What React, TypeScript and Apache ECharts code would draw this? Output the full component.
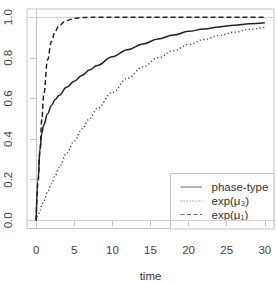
import React, { useEffect, useRef } from "react";
import * as echarts from "echarts";

// Sample times (x) and the three cumulative distribution curves
const times = [0, 0.25, 0.5, 0.75, 1, 1.5, 2, 2.5, 3, 4, 5, 6, 7, 8, 10, 12, 14, 16, 18, 20, 22, 24, 26, 28, 30];
const phaseType = [0, 0.2, 0.35, 0.43, 0.47, 0.525, 0.565, 0.595, 0.615, 0.655, 0.685, 0.713, 0.74, 0.762, 0.805, 0.84, 0.868, 0.892, 0.912, 0.93, 0.942, 0.952, 0.96, 0.967, 0.972];
const expMu3 = [0, 0.025, 0.05, 0.073, 0.096, 0.14, 0.18, 0.22, 0.26, 0.33, 0.39, 0.45, 0.5, 0.55, 0.63, 0.7, 0.755, 0.8, 0.835, 0.865, 0.89, 0.91, 0.926, 0.94, 0.95];
const expMu1 = [0, 0.19, 0.34, 0.5, 0.62, 0.79, 0.88, 0.93, 0.96, 0.984, 0.994, 0.998, 0.999, 1, 1, 1, 1, 1, 1, 1, 1, 1, 1, 1, 1];

const xTicks = [0, 5, 10, 15, 20, 25, 30];
const yTicks = [0, 0.2, 0.4, 0.6, 0.8, 1.0];
const legendNames = ["phase-type", "exp(μ₃)", "exp(μ₁)"];

const FONT = "'Liberation Sans', Arial, Helvetica, sans-serif";
const FS = 11.5;
const FRAME = "#c4c4c4";
const INK = "#222";

const pairs = (vals: number[]) => times.map((t, i) => [t, vals[i]]);

export default function App() {
  const ref = useRef<HTMLDivElement>(null);

  useEffect(() => {
    if (!ref.current) return;
    const chart = echarts.init(ref.current, undefined, { renderer: "svg" });

    const lineStyles: any[] = [
      { type: "solid", width: 1.5, color: INK },
      { type: [1.2, 2.4], width: 1.4, color: "#444" },
      { type: [5, 3], width: 1.5, color: INK },
    ];
    const seriesData = [phaseType, expMu3, expMu1];

    const legendTop = 173;
    const legendRows = [187, 201, 214.5];

    const option: any = {
      animation: false,
      backgroundColor: "#fff",
      grid: {
        left: 27,
        right: 3,
        top: 9,
        bottom: 53.5,
        containLabel: false,
        outerBoundsMode: "none",
        show: true,
        borderColor: FRAME,
        borderWidth: 1,
        backgroundColor: "transparent",
      },
      xAxis: {
        type: "value",
        min: -1.2,
        max: 31.2,
        name: "time",
        nameLocation: "middle",
        nameGap: 41,
        nameTextStyle: { fontFamily: FONT, fontSize: FS, color: "#333" },
        axisLine: { show: true, lineStyle: { color: FRAME } },
        axisTick: { show: true, length: 6, lineStyle: { color: FRAME }, customValues: xTicks },
        axisLabel: {
          margin: 15,
          fontFamily: FONT,
          fontSize: FS,
          color: "#444",
          customValues: xTicks,
          formatter: (v: number) => String(v),
        },
        splitLine: { show: false },
      },
      yAxis: {
        type: "value",
        min: -0.04,
        max: 1.04,
        axisLine: { show: true, lineStyle: { color: FRAME } },
        axisTick: { show: true, length: 6, lineStyle: { color: FRAME }, customValues: yTicks },
        axisLabel: {
          rotate: 90,
          margin: 13,
          fontFamily: FONT,
          fontSize: FS,
          color: "#444",
          customValues: yTicks,
          formatter: (v: number) => v.toFixed(1),
        },
        splitLine: { show: false },
      },
      series: seriesData.map((vals, i) => ({
        type: "line",
        name: legendNames[i],
        data: pairs(vals),
        showSymbol: false,
        symbol: "none",
        smooth: 0.4,
        smoothMonotone: "x",
        lineStyle: lineStyles[i],
        z: 3,
        ...(i === 0
          ? {
              markLine: {
                silent: true,
                symbol: "none",
                label: { show: false },
                lineStyle: { color: "#d0d0d0", type: "solid", width: 1 },
                data: [{ yAxis: 0 }, { yAxis: 1 }],
                z: 1,
              },
            }
          : {}),
      })),
      graphic: [
        {
          type: "group",
          z: 100,
          children: [
            {
              type: "rect",
              shape: { x: 170.5, y: legendTop + 0.5, width: 103.5, height: 228.5 - legendTop },
              style: { fill: "#fff", stroke: FRAME, lineWidth: 1 },
            },
            ...legendRows.flatMap((y, i) => [
              {
                type: "line",
                shape: { x1: 180.5, y1: y, x2: 202, y2: y },
                style: {
                  stroke: "#666",
                  lineWidth: 1,
                  lineDash: i === 0 ? null : i === 1 ? [1, 2] : [4, 2.5],
                },
              },
              {
                type: "text",
                x: 211.5,
                y,
                style: {
                  text: legendNames[i],
                  fontFamily: FONT,
                  fontSize: FS,
                  fill: "#333",
                  verticalAlign: "middle",
                  align: "left",
                },
              },
            ]),
          ],
        },
      ],
    };

    chart.setOption(option);
    return () => chart.dispose();
  }, []);

  return (
    <div
      ref={ref}
      style={{ position: "fixed", left: 0, top: 0, width: 277, height: 282, background: "#fff" }}
    />
  );
}
